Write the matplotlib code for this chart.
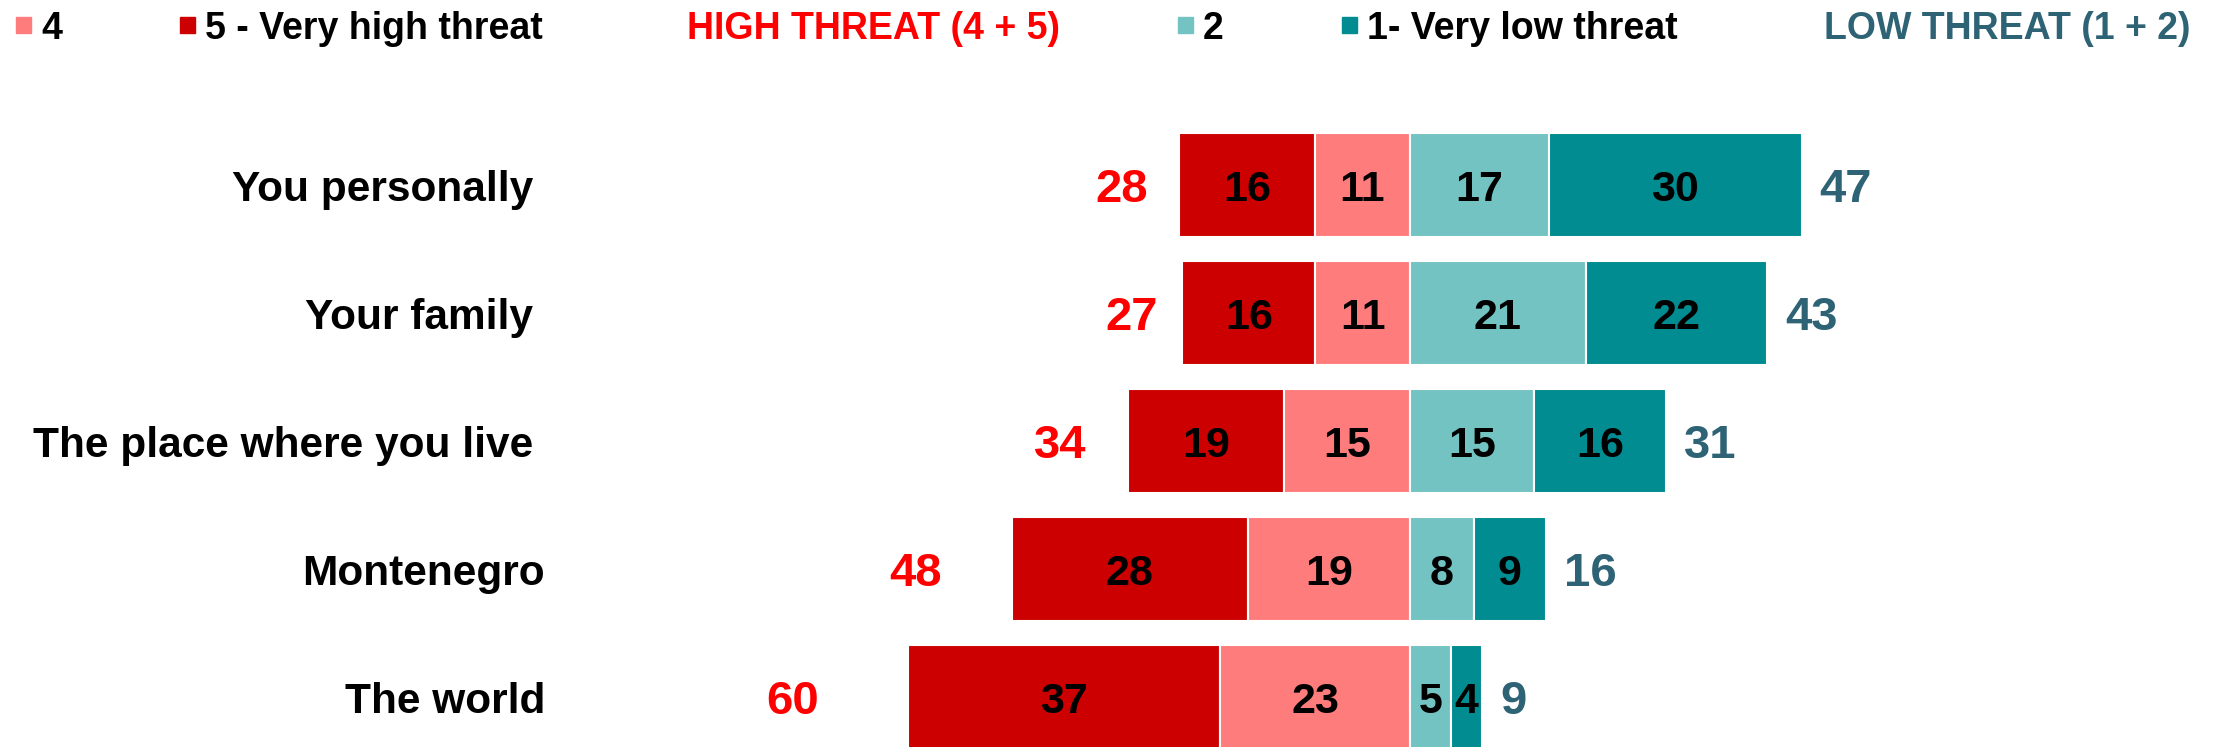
import numpy as np
import matplotlib
matplotlib.use("Agg")
import matplotlib.pyplot as plt
from matplotlib.patches import Rectangle

plt.rcParams['font.family'] = ['Liberation Sans', 'DejaVu Sans']
plt.rcParams['font.weight'] = 'bold'

categories = ["You personally ", "Your family ", "The place where you live ",
              "Montenegro", "The world"]
very_high = [16.2, 15.9, 18.6, 28.2, 37.3]   # 5 - Very high threat
high = [11.4, 11.3, 15.1, 19.4, 22.7]        # 4
low = [16.6, 21.0, 14.8, 7.6, 4.9]           # 2
very_low = [30.2, 21.7, 15.8, 8.6, 3.7]      # 1- Very low threat
high_total = [28, 27, 34, 48, 60]
low_total = [47, 43, 31, 16, 9]

c5 = "#CC0000"
c4 = "#FF7C7C"
c2 = "#73C3C2"
c1 = "#008C90"
c_high = "#FF0000"
c_low = "#2E6375"

W, H = 2218, 747
fig = plt.figure(figsize=(W / 100, H / 100), dpi=100)
ax = fig.add_axes([0, 0, 1, 1])
ax.axis("off")

# centre line at 1410 px, 8.37 px per percentage point
ppu = 8.37
ax.set_xlim(-1410 / ppu, (W - 1410) / ppu)
row_px = 128.0
ax.set_ylim((H - 185) / row_px, -185 / row_px)

y = np.arange(len(categories))
vh = np.array(very_high)
hi = np.array(high)
lo = np.array(low)
vl = np.array(very_low)

bh = 0.82
kw = dict(height=bh, edgecolor="white", linewidth=1.5)
b5 = ax.barh(y, vh, left=-(vh + hi), color=c5, **kw)
b4 = ax.barh(y, hi, left=-hi, color=c4, **kw)
b2 = ax.barh(y, lo, left=0, color=c2, **kw)
b1 = ax.barh(y, vl, left=lo, color=c1, **kw)

for bars, vals in [(b5, vh), (b4, hi), (b2, lo), (b1, vl)]:
    for bar, v in zip(bars, vals):
        cx = bar.get_x() + bar.get_width() / 2
        ax.text(cx, bar.get_y() + bh / 2, f"{v:.0f}", ha="center",
                va="center_baseline", fontsize=31, color="black")

for i in range(len(categories)):
    ax.text(-1.23 * high_total[i], i, str(high_total[i]), ha="center",
            va="center_baseline", fontsize=34, color=c_high)
    ax.text(lo[i] + vl[i] + 18 / ppu, i, str(low_total[i]), ha="left",
            va="center_baseline", fontsize=34, color=c_low)
    ax.text((545 - 1410) / ppu, i, categories[i], ha="right",
            va="center_baseline", fontsize=30.5, color="black")

# legend row across the top
ly = 1 - 25 / H
legend_items = [(16, "4", c4), (180, "5 - Very high threat", c5),
                (1178, "2", c2), (1342, "1- Very low threat", c1)]
for px, label, col in legend_items:
    fig.add_artist(Rectangle((px / W, ly - 7.5 / H), 15 / W, 15 / H,
                             transform=fig.transFigure, color=col))
    fig.text((px + 25) / W, ly, label, ha="left", va="center_baseline",
             fontsize=27, color="black")
fig.text(687 / W, ly, "HIGH THREAT (4 + 5)", ha="left", va="center_baseline",
         fontsize=27, color=c_high)
fig.text(1824 / W, ly, "LOW THREAT (1 + 2)", ha="left", va="center_baseline",
         fontsize=27, color=c_low)

fig.savefig("out.png", dpi=100, facecolor="white")
